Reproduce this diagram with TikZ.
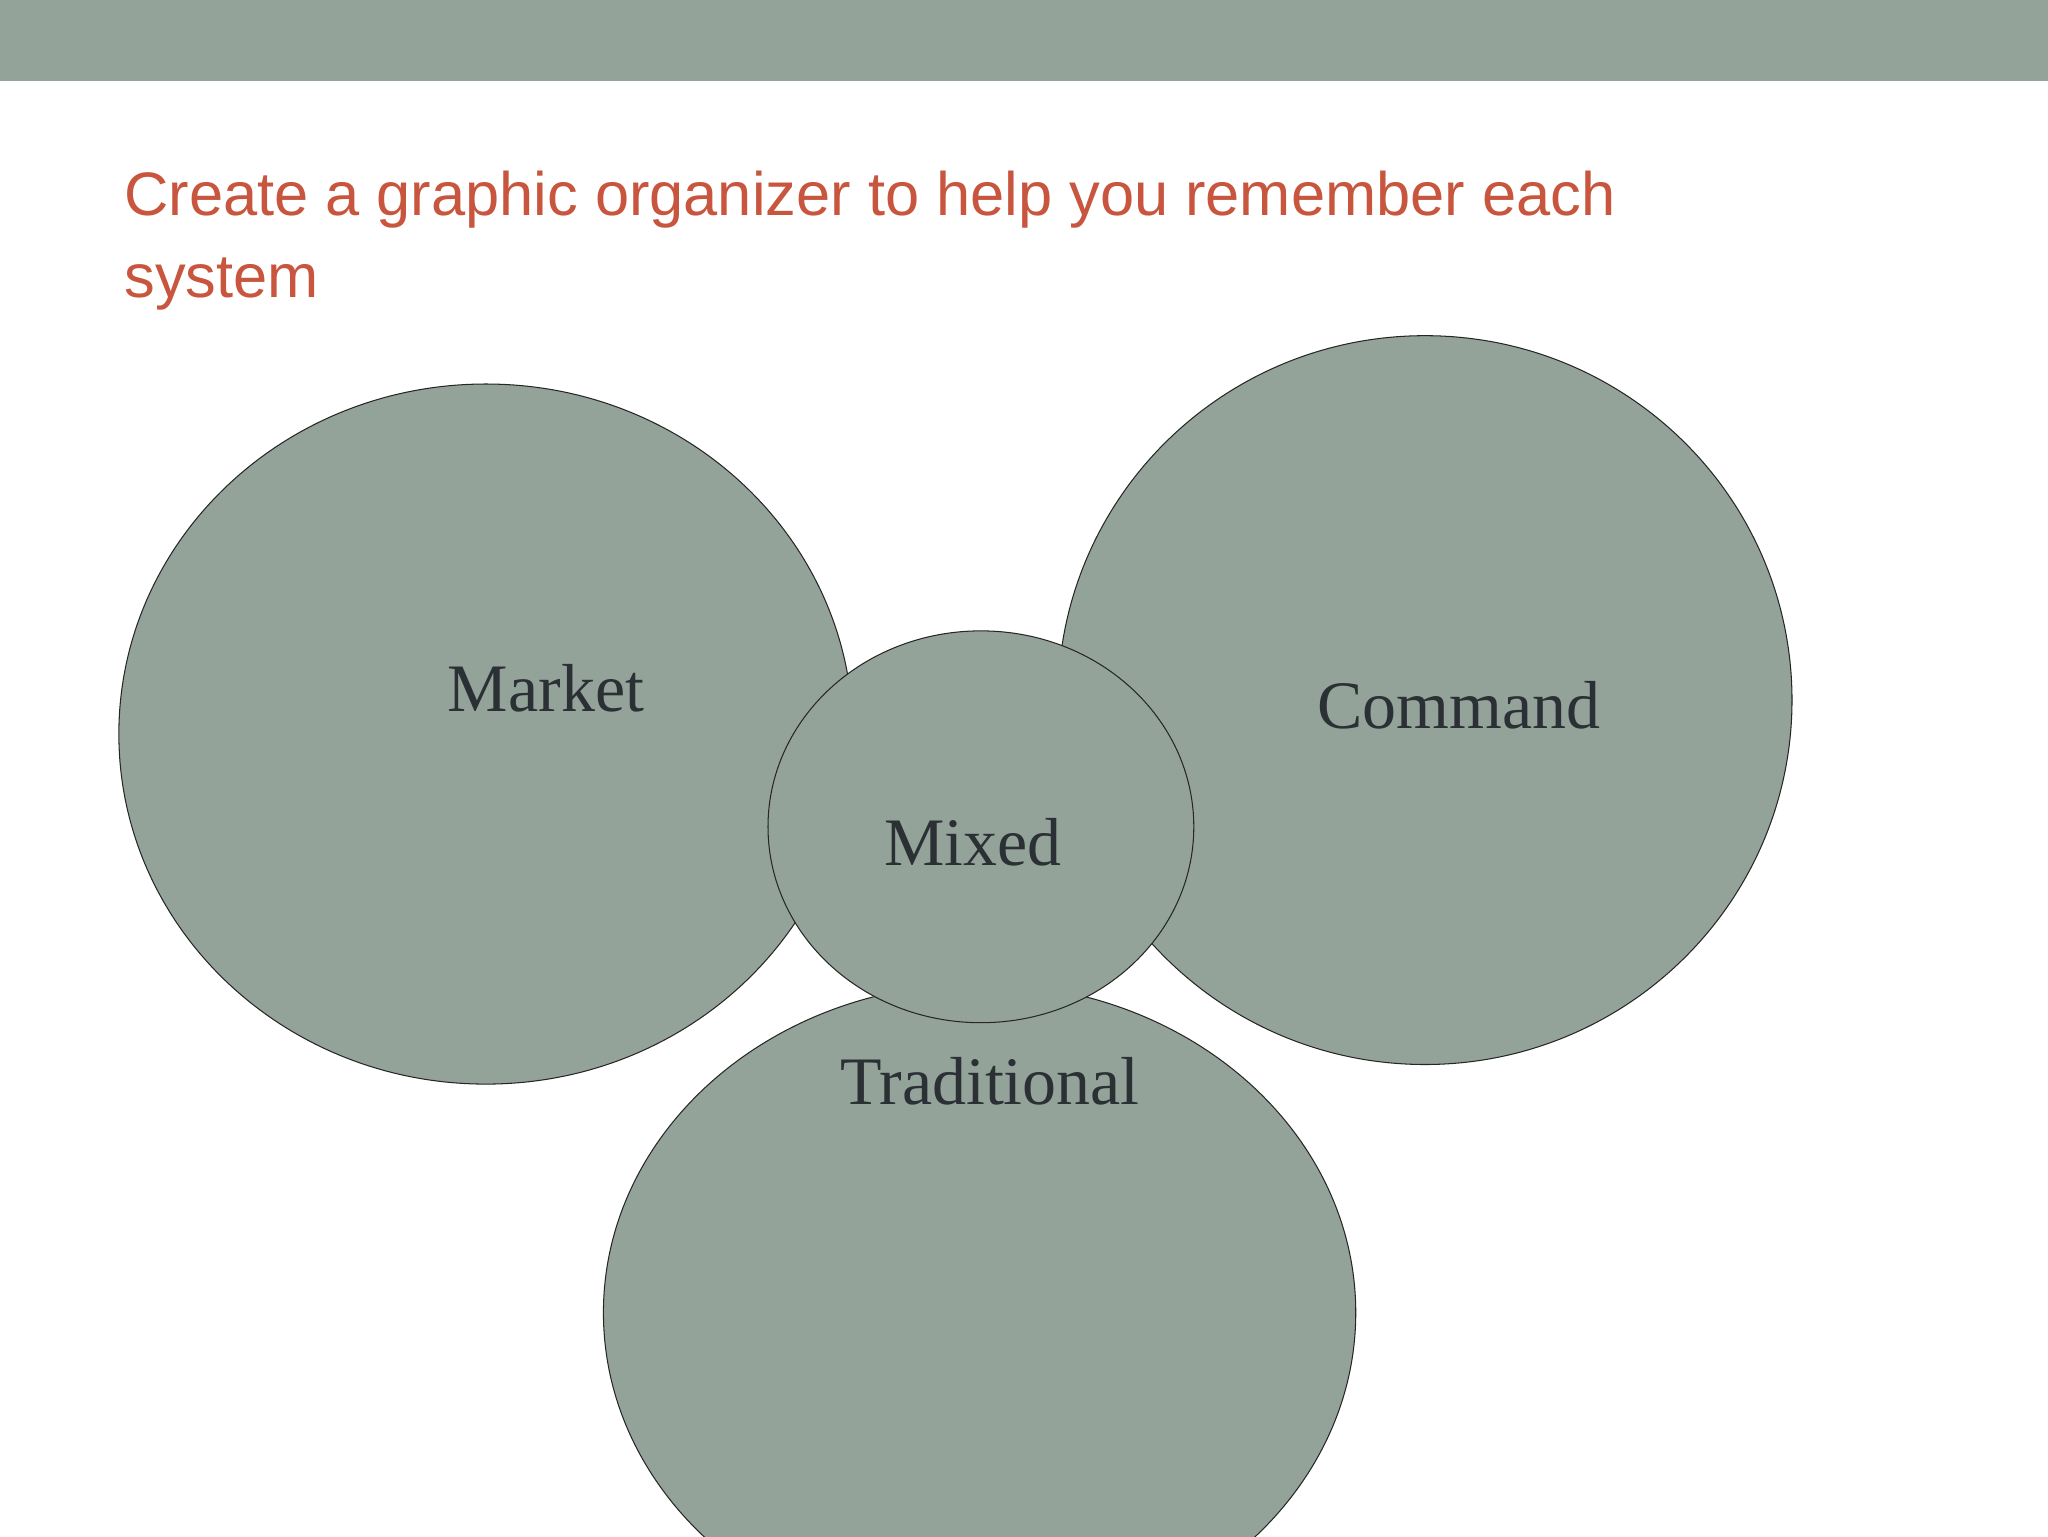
\documentclass[tikz,border=0pt]{standalone}
\usepackage{fontspec}
\setmainfont{Liberation Serif}
\newfontfamily\titlefont{Liberation Sans}
\definecolor{sage}{HTML}{94A39A}
\definecolor{titlered}{HTML}{C8553D}
\definecolor{labelink}{HTML}{2B3035}
\begin{document}
\begin{tikzpicture}[x=1pt,y=-1pt,
  blob/.style={fill=sage,draw=black!85,line width=0.8pt},
  lbl/.style={text=labelink,font=\fontsize{52}{60}\selectfont,inner sep=0pt}]
\useasboundingbox (0,0) rectangle (1568,1176);
\clip (0,0) rectangle (1568,1176);
\fill[sage] (0,0) rectangle (1568,62);
\node[anchor=base west,inner sep=0pt,text=titlered,font=\titlefont\fontsize{47}{63}\selectfont] (t1) at (95,165) {Create a graphic organizer to help you remember each};
\node[anchor=base west,inner sep=0pt,text=titlered,font=\titlefont\fontsize{47}{63}\selectfont] (t2) at (95,228) {system};
\draw[blob] (372,562) ellipse [x radius=281,y radius=268];
\draw[blob] (1091,536) ellipse [x radius=281,y radius=279];
\draw[blob] (750,1005) ellipse [x radius=288,y radius=252];
\draw[blob] (751,633) ellipse [x radius=163,y radius=150];
\node[lbl] (market) at (418,527) {Market};
\node[lbl] (command) at (1117,540) {Command};
\node[lbl] (mixed) at (745,645) {Mixed};
\node[lbl] (trad) at (758,828) {Traditional};
\end{tikzpicture}
\end{document}
